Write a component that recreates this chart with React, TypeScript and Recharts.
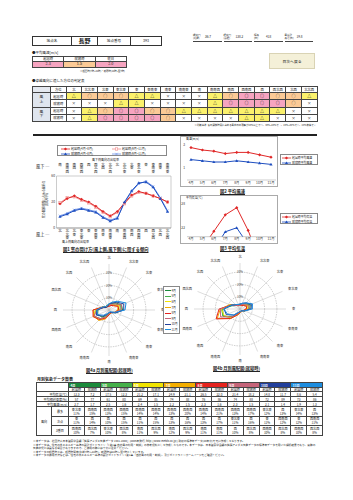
import React from 'react'
import {
  LineChart, Line, XAxis, YAxis,
  RadarChart, Radar, PolarGrid, PolarAngleAxis, PolarRadiusAxis,
} from 'recharts'

const FONT = "'Noto Sans CJK JP', 'Noto Sans', sans-serif"

// 16方位（風上側）と対になる風下側
const dirs = ['北', '北北東', '北東', '東北東', '東', '東南東', '南東', '南南東', '南', '南南西', '南西', '西南西', '西', '西北西', '北西', '北北西']
const oppDirs = ['南', '南南西', '南西', '西南西', '西', '西北西', '北西', '北北西', '北', '北北東', '北東', '東北東', '東', '東南東', '南東', '南南東']

// 判定表
const judgeUpLiving = ['△', '○', '○', '○', '△', '△', '×', '×', '×', '△', '○', '◎', '◎', '○', '○', '△']
const judgeUpSleep = ['×', '×', '×', '△', '△', '×', '×', '×', '×', '△', '◎', '◎', '◎', '◎', '○', '×']
const judgeDownLiving = ['×', '△', '○', '◎', '◎', '○', '○', '△', '△', '△', '△', '△', '△', '△', '×', '×']
const judgeDownSleep = ['×', '△', '◎', '◎', '◎', '◎', '○', '×', '×', '×', '×', '△', '△', '×', '×', '×']
const judgeColor: Record<string, string> = { '◎': '#f6a4c0', '○': '#fbca96', '△': '#fbf16c', '×': '#ffffff' }

// 図1 窓の開放時間に占める風向の出現率 [%]
const livingA = [28, 34, 37, 33, 30, 25, 19, 14, 19, 29, 38, 42, 40, 37, 34, 30]
const livingB = [29, 35, 36, 32, 29, 24, 18, 13, 18, 28, 37, 41, 40, 37, 34, 30]
const sleepA = [13, 16, 20, 22, 20, 18, 12, 8, 11, 30, 43, 52, 53, 47, 34, 19]
const sleepB = [14, 17, 21, 23, 21, 19, 13, 9, 12, 29, 42, 51, 54, 48, 35, 20]

// 月別気象データ
const months = ['4月', '5月', '6月', '7月', '8月', '9月', '10月', '11月']
const monthColors = ['#1b8a3c', '#45b04a', '#f0e400', '#f4ae00', '#e5231f', '#c56479', '#22409c', '#1d8ddf']
const tempLiving = [12.3, 17.5, 21.2, 24.9, 26.5, 21.4, 14.8, 8.6]
const tempSleep = [7.2, 12.3, 17.1, 21.1, 22.0, 18.2, 11.7, 5.4]
const humLiving = [57, 61, 69, 74, 76, 74, 72, 73]
const humSleep = [77, 80, 85, 88, 86, 88, 89, 86]
const windLiving = [2.7, 2.5, 2.4, 2.2, 2.3, 2.3, 2.1, 1.9]
const windSleep = [1.7, 1.6, 1.5, 1.5, 1.6, 1.5, 1.4, 1.3]
const dir1Living = ['東北東', '西南西', '西南西', '西南西', '西南西', '西南西', '東北東', '東北東']
const pct1Living = [11, 13, 14, 13, 14, 13, 12, 14]
const dir1Sleep = ['西南西', '西南西', '西南西', '西南西', '西南西', '西南西', '西', '西']
const pct1Sleep = [15, 15, 14, 20, 21, 17, 13, 13]
const dir2Living = ['東', '西', '西', '西', '西', '東北東', '東', '東']
const pct2Living = [11, 10, 11, 13, 13, 11, 11, 12]
const dir2Sleep = ['西', '西', '西', '西', '西', '西', '西南西', '西南西']
const pct2Sleep = [14, 15, 15, 16, 17, 16, 12, 11]
const dir3Living = ['西南西', '東北東', '南西', '南西', '南西', '西', '西南西', '西南西']
const pct3Living = [10, 10, 11, 12, 11, 10, 10, 10]
const dir3Sleep = ['西北西', '西北西', '西北西', '西北西', '南西', '西北西', '西北西', '西北西']
const pct3Sleep = [7, 8, 9, 9, 11, 8, 8, 8]

// 風配図 [%]（北から時計回り）
const roseLiving = [
  [5, 6, 8, 11, 11, 6, 3, 2, 3, 5, 8, 10, 9, 6, 4, 4],
  [4, 5, 7, 10, 9, 5, 3, 2, 3, 6, 10, 13, 11, 6, 3, 3],
  [4, 5, 6, 9, 8, 5, 3, 3, 4, 7, 11, 14, 11, 5, 3, 3],
  [3, 4, 5, 8, 7, 5, 3, 3, 4, 8, 12, 13, 13, 6, 3, 3],
  [3, 4, 5, 8, 8, 5, 3, 3, 4, 7, 11, 14, 13, 6, 3, 3],
  [4, 5, 7, 11, 10, 5, 3, 2, 3, 6, 10, 13, 10, 5, 3, 3],
  [5, 6, 9, 13, 12, 6, 3, 2, 2, 4, 7, 11, 10, 5, 3, 3],
  [5, 7, 10, 15, 13, 5, 2, 2, 2, 3, 6, 10, 10, 6, 4, 4],
]
const roseSleep = [
  [4, 4, 6, 9, 8, 4, 2, 2, 2, 4, 9, 15, 14, 7, 4, 3],
  [3, 4, 5, 8, 7, 4, 2, 2, 3, 5, 10, 15, 15, 8, 4, 3],
  [3, 3, 5, 7, 6, 4, 2, 2, 3, 5, 10, 14, 15, 9, 5, 3],
  [3, 3, 4, 6, 5, 3, 2, 2, 3, 5, 11, 20, 16, 9, 5, 3],
  [3, 3, 4, 6, 5, 3, 2, 2, 3, 5, 11, 21, 17, 8, 4, 3],
  [3, 4, 5, 8, 7, 4, 2, 2, 2, 4, 9, 17, 16, 8, 4, 3],
  [4, 5, 7, 10, 9, 4, 2, 2, 2, 3, 7, 12, 13, 8, 5, 4],
  [4, 5, 7, 11, 10, 4, 2, 2, 2, 3, 7, 11, 13, 8, 5, 4],
]

const fig1Data = dirs.map((d, i) => ({ dir: d, opp: oppDirs[i], la: livingA[i], lb: livingB[i], sa: sleepA[i], sb: sleepB[i] }))
const monthData = months.map((m, i) => ({ m, wl: windLiving[i], ws: windSleep[i], tl: tempLiving[i], ts: tempSleep[i] }))
const roseData = (vals: number[][]) => dirs.map((d, i) => {
  const o: any = { dir: d }
  months.forEach((m, j) => { o[m] = vals[j][i] })
  return o
})
const roseLivingData = roseData(roseLiving)
const roseSleepData = roseData(roseSleep)

const abs = (left: number, top: number, extra: React.CSSProperties = {}): React.CSSProperties => ({ position: 'absolute', left, top, ...extra })

function Marker({ shape, cx, cy, color }: { shape: string; cx: number; cy: number; color: string }) {
  const s = 1.6
  if (shape === 'diamond') return <polygon points={`${cx},${cy - s} ${cx + s},${cy} ${cx},${cy + s} ${cx - s},${cy}`} fill={color} />
  if (shape === 'square') return <rect x={cx - 1.2} y={cy - 1.2} width={2.4} height={2.4} fill="#fff" stroke={color} strokeWidth={0.6} />
  if (shape === 'triangle') return <polygon points={`${cx},${cy - s} ${cx + s},${cy + 1.1} ${cx - s},${cy + 1.1}`} fill={color} />
  return <path d={`M${cx - 1.2},${cy - 1.2}L${cx + 1.2},${cy + 1.2}M${cx - 1.2},${cy + 1.2}L${cx + 1.2},${cy - 1.2}`} stroke={color} strokeWidth={0.6} />
}
const dotFn = (shape: string, color: string) => (p: any) => <Marker key={p.index} shape={shape} cx={p.cx} cy={p.cy} color={color} />

function VTick(props: any) {
  const { x, y, payload, side } = props
  const chars = Array.from(String(payload.value))
  const fs = 3.5
  const y0 = side === 'top' ? y - 13.2 : y + 1.2
  return (
    <text fontSize={fs} fill="#222" textAnchor="middle">
      {chars.map((c, i) => <tspan key={i} x={x} y={y0 + fs * (i + 1) - 0.5}>{c}</tspan>)}
    </text>
  )
}
function SmallTick(props: any) {
  const { x, y, payload, anchor, dx = 0, dy = 1.2 } = props
  return <text x={x + dx} y={y + dy} fontSize={3.3} fill="#333" textAnchor={anchor}>{payload.value}</text>
}
function RoseTick(props: any) {
  const { x, y, payload, textAnchor } = props
  return <text x={x} y={y} dy={1.2} fontSize={3.2} fill="#333" textAnchor={textAnchor}>{payload.value}</text>
}
function PctTick(props: any) {
  const { x, y, payload } = props
  return <text x={x} y={y} dy={1.1} fontSize={2.9} fill="#555" textAnchor="middle">{payload.value}%</text>
}

const cellB = '0.5px solid #444'

function JudgeTable() {
  const rows = [
    { grp: '風上', sub: '起居時', vals: judgeUpLiving, first: true },
    { grp: '風上', sub: '就寝時', vals: judgeUpSleep, first: false },
    { grp: '風下', sub: '起居時', vals: judgeDownLiving, first: true },
    { grp: '風下', sub: '就寝時', vals: judgeDownSleep, first: false },
  ]
  const td: React.CSSProperties = { border: cellB, padding: 0, textAlign: 'center', overflow: 'hidden', whiteSpace: 'nowrap' }
  return (
    <table style={{ ...abs(32, 85.5), width: 285, borderCollapse: 'collapse', tableLayout: 'fixed', fontSize: 3.3, lineHeight: 1 }}>
      <colgroup>
        <col style={{ width: 18 }} />
        <col style={{ width: 15.5 }} />
        {dirs.map((d) => <col key={d} style={{ width: 15.7 }} />)}
      </colgroup>
      <tbody>
        <tr style={{ height: 6.5 }}>
          <td style={{ ...td, background: '#e4e8ef' }} />
          <td style={td}>方位</td>
          {dirs.map((d) => <td key={d} style={td}>{d}</td>)}
        </tr>
        {rows.map((r, ri) => (
          <tr key={ri} style={{ height: 7.3, borderTop: r.first ? '0.9px solid #333' : undefined }}>
            {r.first && <td rowSpan={2} style={{ ...td, background: '#dfe5ee', fontSize: 3.8, lineHeight: 1.25, whiteSpace: 'normal' }}>{r.grp[0]}<br />{r.grp[1]}</td>}
            <td style={td}>{r.sub}</td>
            {r.vals.map((v, i) => <td key={i} style={{ ...td, background: judgeColor[v], fontSize: 4 }}>{v}</td>)}
          </tr>
        ))}
      </tbody>
    </table>
  )
}

function MonthTable() {
  const td: React.CSSProperties = { border: cellB, padding: 0, textAlign: 'center', overflow: 'hidden', whiteSpace: 'nowrap' }
  const numRows = [
    { label: '平均気温[℃]', a: tempLiving.map((v) => v.toFixed(1)), b: tempSleep.map((v) => v.toFixed(1)) },
    { label: '平均相対湿度[%]', a: humLiving.map(String), b: humSleep.map(String) },
    { label: '平均風速[m/s]', a: windLiving.map((v) => v.toFixed(1)), b: windSleep.map((v) => v.toFixed(1)) },
  ]
  const dirRows = [
    { label: '最多', da: dir1Living, pa: pct1Living, db: dir1Sleep, pb: pct1Sleep },
    { label: '次点', da: dir2Living, pa: pct2Living, db: dir2Sleep, pb: pct2Sleep },
    { label: '3番目', da: dir3Living, pa: pct3Living, db: dir3Sleep, pb: pct3Sleep },
  ]
  return (
    <table style={{ ...abs(36, 382.3), width: 286, borderCollapse: 'collapse', tableLayout: 'fixed', fontSize: 3.1, lineHeight: 1 }}>
      <colgroup>
        <col style={{ width: 15 }} />
        <col style={{ width: 17 }} />
        {months.map((m) => [<col key={m + 'a'} style={{ width: 15.875 }} />, <col key={m + 'b'} style={{ width: 15.875 }} />])}
      </colgroup>
      <tbody>
        <tr style={{ height: 4.5 }}>
          <td colSpan={2} rowSpan={2} style={td} />
          {months.map((m, i) => <td key={m} colSpan={2} style={{ ...td, background: monthColors[i], color: '#fff', textAlign: 'left', paddingLeft: 1.5, fontWeight: 700 }}>{m}</td>)}
        </tr>
        <tr style={{ height: 4.6 }}>
          {months.map((m) => [<td key={m + 'a'} style={td}>起居時</td>, <td key={m + 'b'} style={td}>就寝時</td>])}
        </tr>
        {numRows.map((r) => (
          <tr key={r.label} style={{ height: 5 }}>
            <td colSpan={2} style={{ ...td, textAlign: 'right', paddingRight: 1 }}>{r.label}</td>
            {months.map((m, i) => [<td key={m + 'a'} style={td}>{r.a[i]}</td>, <td key={m + 'b'} style={td}>{r.b[i]}</td>])}
          </tr>
        ))}
        {dirRows.map((r, ri) => (
          <tr key={r.label} style={{ height: 9.5 }}>
            {ri === 0 && <td rowSpan={3} style={td}>風向</td>}
            <td style={td}>{r.label}</td>
            {months.map((m, i) => [
              <td key={m + 'a'} style={{ ...td, lineHeight: 1.3 }}>{r.da[i]}<br />{r.pa[i]}%</td>,
              <td key={m + 'b'} style={{ ...td, lineHeight: 1.3 }}>{r.db[i]}<br />{r.pb[i]}%</td>,
            ])}
          </tr>
        ))}
      </tbody>
    </table>
  )
}

function LegendRow({ color, shape, label }: { color: string; shape: string; label: string }) {
  return (
    <div style={{ display: 'flex', alignItems: 'center', height: 4.6 }}>
      <svg width={9} height={4} style={{ flex: 'none' }}>
        <line x1={0} y1={2} x2={9} y2={2} stroke={color} strokeWidth={0.8} />
        <Marker shape={shape} cx={4.5} cy={2} color={color} />
      </svg>
      <span style={{ marginLeft: 1, whiteSpace: 'nowrap' }}>{label}</span>
    </div>
  )
}

function Fig1() {
  return (
    <>
      <div style={{ ...abs(57, 145), width: 110, height: 11, border: '0.5px solid #888', fontSize: 3, display: 'grid', gridTemplateColumns: '1fr 1fr', padding: '0.8px 3px', boxSizing: 'border-box' }}>
        <LegendRow color="#e02828" shape="diamond" label="起居時(4月~8月)" />
        <LegendRow color="#f08a8a" shape="square" label="起居時(9月~11月)" />
        <LegendRow color="#1f4fc0" shape="triangle" label="就寝時(4月~8月)" />
        <LegendRow color="#6f93e8" shape="cross" label="就寝時(9月~11月)" />
      </div>
      <div style={{ ...abs(92, 157.5), fontSize: 3, whiteSpace: 'nowrap' }}>風下側風向の出現率</div>
      <div style={{ ...abs(36, 163), fontSize: 4.2, whiteSpace: 'nowrap' }}>風下 ─</div>
      <div style={{ ...abs(36, 230.5), fontSize: 4.2, whiteSpace: 'nowrap' }}>風上 ─</div>
      <div style={{ ...abs(24, 196), width: 44, fontSize: 2.9, lineHeight: 1.15, textAlign: 'center', transform: 'rotate(-90deg)', transformOrigin: 'center' }}>
        窓の開放時間に占める風向の<br />出現率[%]
      </div>
      <div style={{ ...abs(26, 156) }}>
        <LineChart width={150} height={92} data={fig1Data} margin={{ top: 5, right: 4, bottom: 5, left: 0 }}>
          <XAxis xAxisId="top" orientation="top" dataKey="opp" interval={0} height={15} tickSize={0} tickMargin={0}
            padding={{ left: 3.5, right: 3.5 }} axisLine={{ stroke: '#999', strokeWidth: 0.5 }} tickLine={false}
            tick={(p: any) => <VTick {...p} side="top" />} />
          <XAxis dataKey="dir" interval={0} height={15} tickSize={0} tickMargin={0}
            padding={{ left: 3.5, right: 3.5 }} axisLine={{ stroke: '#444', strokeWidth: 0.6 }} tickLine={false}
            tick={(p: any) => <VTick {...p} side="bottom" />} />
          <YAxis domain={[0, 60]} ticks={[0, 10, 20, 30, 40, 50, 60]} width={30.5} tickSize={0} tickMargin={0}
            axisLine={{ stroke: '#999', strokeWidth: 0.5 }} tickLine={false}
            tick={(p: any) => <SmallTick {...p} anchor="end" dx={-1.5} />} />
          <YAxis yAxisId="r" orientation="right" domain={[0, 60]} width={1} tick={false} tickLine={false}
            axisLine={{ stroke: '#999', strokeWidth: 0.5 }} />
          <Line dataKey="lb" stroke="#f08a8a" strokeWidth={1} dot={dotFn('square', '#f08a8a')} isAnimationActive={false} />
          <Line dataKey="la" stroke="#e02828" strokeWidth={1} dot={dotFn('diamond', '#e02828')} isAnimationActive={false} />
          <Line dataKey="sb" stroke="#6f93e8" strokeWidth={1} dot={dotFn('cross', '#6f93e8')} isAnimationActive={false} />
          <Line dataKey="sa" stroke="#1f4fc0" strokeWidth={1} dot={dotFn('triangle', '#1f4fc0')} isAnimationActive={false} />
        </LineChart>
      </div>
      <div style={{ ...abs(62, 239.5), fontSize: 3, whiteSpace: 'nowrap' }}>風上側風向の出現率</div>
      <div style={{ ...abs(63, 245.5), fontSize: 4.3, fontWeight: 700, textDecoration: 'underline', whiteSpace: 'nowrap' }}>
        図1 窓の開け方(風上側,風下側)に関する傾向
      </div>
    </>
  )
}

function MonthLine({ top, height, plotTop, plotBottom, domain, ticks, keys, unit, legend, caption, captionTop }: any) {
  return (
    <>
      <div style={{ ...abs(180, top), width: 98, height, border: '0.5px solid #aaa', boxSizing: 'border-box' }} />
      <div style={{ ...abs(186, top + 1), fontSize: 2.9, whiteSpace: 'nowrap' }}>{unit}</div>
      <div style={{ ...abs(180, top) }}>
        <LineChart width={98} height={height} data={monthData} margin={{ top: plotTop, right: 2, bottom: 1, left: 0 }}>
          <XAxis dataKey="m" interval={0} height={height - plotBottom - 1} tickSize={0} tickMargin={0}
            padding={{ left: 4, right: 5 }} axisLine={{ stroke: '#999', strokeWidth: 0.5 }} tickLine={false}
            tick={(p: any) => <SmallTick {...p} anchor="middle" dy={3.6} />} />
          <YAxis domain={domain} ticks={ticks} width={7} allowDataOverflow tickSize={0} tickMargin={0}
            axisLine={false} tickLine={false} tick={(p: any) => <SmallTick {...p} anchor="end" dx={-2} />} />
          <Line dataKey={keys[0]} stroke="#e02828" strokeWidth={1} dot={dotFn('diamond', '#e02828')} isAnimationActive={false} />
          <Line dataKey={keys[1]} stroke="#1f4fc0" strokeWidth={1} dot={dotFn('triangle', '#1f4fc0')} isAnimationActive={false} />
        </LineChart>
      </div>
      <div style={{ ...abs(280, top + 18), width: 38, height: 11, border: '0.5px solid #888', fontSize: 2.9, padding: '0.8px 1px', boxSizing: 'border-box' }}>
        <LegendRow color="#e02828" shape="diamond" label={legend[0]} />
        <LegendRow color="#1f4fc0" shape="triangle" label={legend[1]} />
      </div>
      <div style={{ ...abs(220, captionTop), fontSize: 4.3, fontWeight: 700, textDecoration: 'underline', whiteSpace: 'nowrap' }}>{caption}</div>
    </>
  )
}

function Rose({ left, top, data, caption, captionLeft, captionTop }: any) {
  return (
    <>
      <div style={{ ...abs(left, top) }}>
        <RadarChart width={124} height={118} data={data} cx={62} cy={58} outerRadius={46} startAngle={90} endAngle={-270}
          margin={{ top: 0, right: 0, bottom: 0, left: 0 }}>
          <PolarGrid gridType="circle" radialLines={false} stroke="#999" strokeWidth={0.5} strokeDasharray="1.5 1" />
          <PolarGrid gridType="circle" polarRadius={[0]} stroke="#bbb" strokeWidth={0.5} />
          <PolarAngleAxis dataKey="dir" tickSize={6} tickLine={false} axisLine={false} tick={(p: any) => <RoseTick {...p} />} />
          <PolarRadiusAxis angle={90} domain={[0, 37.4]} ticks={[10, 20, 30]} axisLine={false} tickLine={false}
            tick={(p: any) => <PctTick {...p} />} />
          {months.map((m, i) => (
            <Radar key={m} dataKey={m} stroke={monthColors[i]} strokeWidth={1} fill="none" fillOpacity={0} dot={false} isAnimationActive={false} />
          ))}
        </RadarChart>
      </div>
      <div style={{ ...abs(captionLeft, captionTop), fontSize: 4.2, fontWeight: 700, textDecoration: 'underline', whiteSpace: 'nowrap' }}>{caption}</div>
    </>
  )
}

export default function App() {
  return (
    <div style={{ position: 'absolute', left: 0, top: 0, width: 353, height: 500, background: '#fff', fontFamily: FONT, color: '#222', overflow: 'hidden' }}>
      {/* 見出し */}
      <div style={{ ...abs(32, 36), display: 'flex', height: 7.5, border: '0.6px solid #333', fontSize: 3.6, alignItems: 'stretch' }}>
        <div style={{ width: 38, display: 'flex', alignItems: 'center', justifyContent: 'center' }}>地点名</div>
        <div style={{ width: 25, borderLeft: '0.6px solid #333', display: 'flex', alignItems: 'center', justifyContent: 'center', fontSize: 6, fontWeight: 700 }}>長野</div>
        <div style={{ width: 32, borderLeft: '0.6px solid #333', display: 'flex', alignItems: 'center', justifyContent: 'center' }}>地点番号</div>
        <div style={{ width: 30, borderLeft: '0.6px solid #333', display: 'flex', alignItems: 'center', justifyContent: 'center' }}>393</div>
      </div>
      <div style={{ ...abs(193, 33), display: 'flex', width: 122, height: 8.5 }}>
        {[['緯度[°]', '(北緯)', '36.7'], ['経度[°]', '(東経)', '138.2'], ['標高', '[m]', '418'], ['風速計', '高さ[m]', '19.8']].map((g) => (
          <div key={g[0]} style={{ flex: 1, display: 'flex', alignItems: 'center', borderBottom: '0.6px solid #444', marginRight: 2 }}>
            <div style={{ fontSize: 2.5, lineHeight: 1.1, width: 12 }}>{g[0]}<br />{g[1]}</div>
            <div style={{ fontSize: 3.1 }}>{g[2]}</div>
          </div>
        ))}
      </div>
      <div style={{ ...abs(269, 53), width: 46, height: 16, background: '#f4f0d8', border: '0.5px solid #d9d3b4', boxSizing: 'border-box', display: 'flex', alignItems: 'center', justifyContent: 'center', fontSize: 3.8 }}>目次へ戻る</div>

      {/* 平均風速 */}
      <div style={{ ...abs(32, 49.5), fontSize: 3.5, whiteSpace: 'nowrap' }}>●平均風速[m/s]</div>
      <table style={{ ...abs(32, 56), width: 95, borderCollapse: 'collapse', tableLayout: 'fixed', fontSize: 3.3, lineHeight: 1 }}>
        <tbody>
          <tr style={{ height: 4.6 }}>
            {['起居時', '就寝時', '終日'].map((t) => <td key={t} style={{ border: cellB, padding: 0, textAlign: 'center' }}>{t}</td>)}
          </tr>
          <tr style={{ height: 6 }}>
            {[['2.3', '#f6a4c0'], ['1.5', '#fbca96'], ['2.0', '#f6a4c0']].map(([v, c]) => (
              <td key={v} style={{ border: cellB, padding: 0, textAlign: 'center', background: c, fontSize: 3.8 }}>{v}</td>
            ))}
          </tr>
        </tbody>
      </table>
      <div style={{ ...abs(80, 68.8), fontSize: 2.4, whiteSpace: 'nowrap' }}>※起居時(7時~22時)・就寝時(22時~翌7時)</div>

      <div style={{ ...abs(32, 77.5), fontSize: 3.5, whiteSpace: 'nowrap' }}>●卓越風向に適した方位の判定表</div>
      <JudgeTable />
      <div style={{ ...abs(150, 122.8), width: 166, fontSize: 2.4, whiteSpace: 'nowrap', textAlign: 'right' }}>
        ※判断基準: 窓の開放時間に占める風向の出現率が40%以上で◎、30%~40%で○、20%~30%で△、20%未満で×
      </div>
      <div style={{ ...abs(33, 134.3), width: 284, height: 1.5, background: '#222' }} />

      <Fig1 />

      <MonthLine top={136} height={51} plotTop={8} plotBottom={44} domain={[0, 3]} ticks={[0, 1, 2, 3]}
        keys={['wl', 'ws']} unit="風速[m/s]" legend={['起居時平均風速', '就寝時平均風速']}
        caption="図2 平均風速" captionTop={188} />
      <MonthLine top={195} height={49} plotTop={6} plotBottom={41.7} domain={[20, 28]} ticks={[20, 22, 24, 26, 28]}
        keys={['tl', 'ts']} unit="平均気温[℃]" legend={['起居時平均気温', '就寝時平均気温']}
        caption="図3 平均気温" captionTop={245} />

      <Rose left={47} top={252} data={roseLivingData} caption="図4a 月別風配図(起居時)" captionLeft={86} captionTop={366.5} />
      <Rose left={178} top={251} data={roseSleepData} caption="図4b 月別風配図(就寝時)" captionLeft={213} captionTop={365} />
      <div style={{ ...abs(163, 286), width: 17, height: 48, border: '0.5px solid #888', boxSizing: 'border-box', fontSize: 2.9, padding: '1px 0.5px', background: '#fff' }}>
        {months.map((m, i) => (
          <div key={m} style={{ display: 'flex', alignItems: 'center', height: 5.6 }}>
            <div style={{ width: 6, height: 1, background: monthColors[i], flex: 'none' }} />
            <span style={{ marginLeft: 1, whiteSpace: 'nowrap' }}>{m}</span>
          </div>
        ))}
      </div>

      {/* 月別気象データ */}
      <div style={{ ...abs(37, 375.5), fontSize: 4, fontWeight: 700, textDecoration: 'underline', whiteSpace: 'nowrap' }}>月別気象データ数表</div>
      <MonthTable />

      <div style={{ ...abs(33, 440), width: 285, fontSize: 2.7, lineHeight: 1.3 }}>
        <div>※本データは、社団法人日本建築学会編『拡張アメダス気象データ 1981-2000』(2005年発行, http://www.metds.co.jp/) 所収の標準年データ(20年分)を元に作成しております。</div>
        <div>※本データは、住宅の省エネルギー基準の設計ガイドライン「I 第1章 自然風の利用・制御」の参考資料として作成したものです。本データは、日本建築学会編の拡張アメダス気象データの標準年データを用いた解析結果であり、実際の気象状況とは異なる場合がありますので、ご使用の際には十分に注意ください。</div>
        <div>※本データの起居時とは、起居時間帯(午前7時～22時)、就寝時は22時～翌7時としています。</div>
        <div>※本データの使用方法などは、住宅の省エネルギー基準の設計ガイドライン I 第1章「自然風の利用・制御」、及びガイドラインホームページをご確認ください。</div>
      </div>
    </div>
  )
}
